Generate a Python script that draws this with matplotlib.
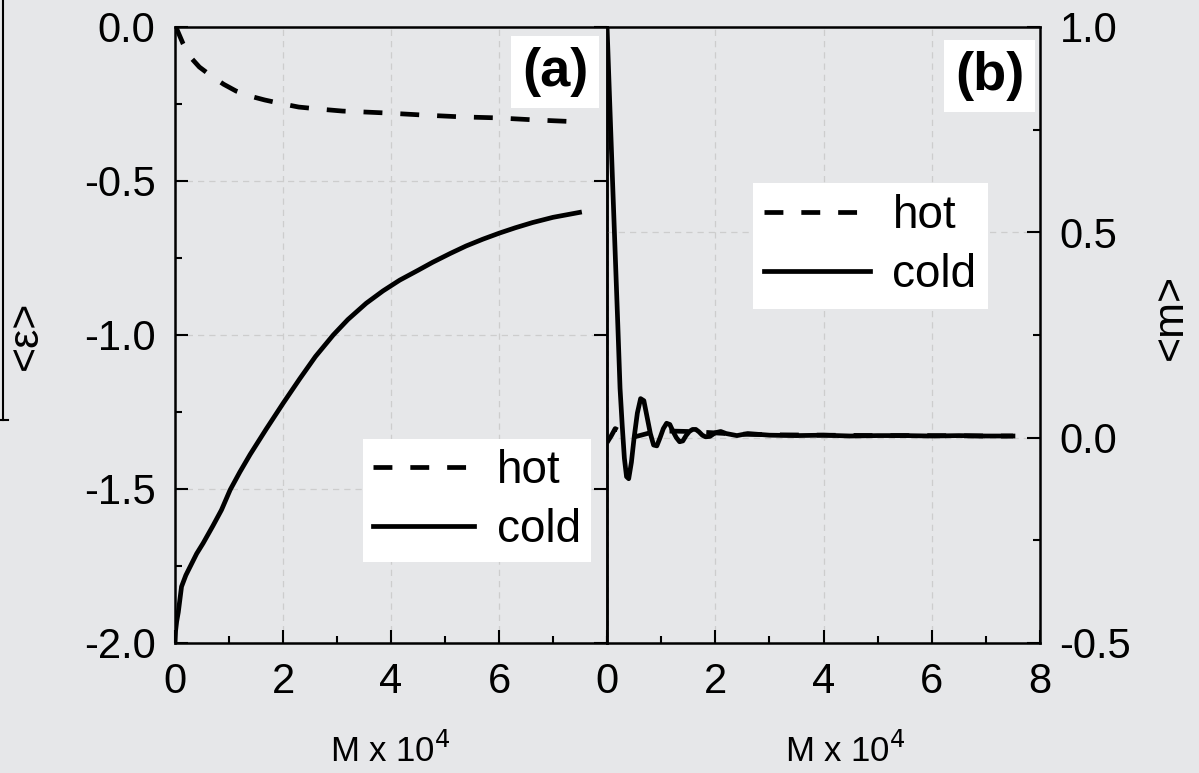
import matplotlib
matplotlib.use("Agg")
import matplotlib.pyplot as plt
from matplotlib.lines import Line2D
from matplotlib.ticker import MultipleLocator

plt.rcParams['font.family'] = ['Liberation Sans', 'DejaVu Sans']

# panel (a): energy <eps> vs M x 10^4
a_hot_x = [0, 0.04, 0.15, 0.28, 0.45, 0.67, 0.9, 1.13, 1.4, 1.66, 2.0, 2.29, 2.7,
           3.1, 3.5, 3.88, 4.6, 5.32, 5.95, 6.69, 7.34, 7.52]
a_hot_y = [0, -0.01, -0.055, -0.097, -0.13, -0.159, -0.186, -0.208, -0.225, -0.237,
           -0.25, -0.26, -0.267, -0.273, -0.276, -0.279, -0.286, -0.292, -0.295,
           -0.302, -0.307, -0.308]
a_cold_x = [0, 0.01, 0.03, 0.06, 0.12, 0.2, 0.28, 0.4, 0.52, 0.7, 0.86, 1.02, 1.2,
            1.39, 1.69, 2.0, 2.31, 2.6, 2.93, 3.2, 3.54, 3.85, 4.16, 4.5, 4.77, 5.1,
            5.39, 5.7, 6.01, 6.3, 6.62, 7.0, 7.49]
a_cold_y = [-2.0, -1.96, -1.93, -1.90, -1.817, -1.78, -1.752, -1.71, -1.676, -1.62,
            -1.568, -1.503, -1.445, -1.388, -1.305, -1.222, -1.142, -1.07, -1.0,
            -0.95, -0.897, -0.857, -0.822, -0.79, -0.764, -0.735, -0.711, -0.689,
            -0.669, -0.652, -0.635, -0.618, -0.602]

# panel (b): magnetization <m> vs M x 10^4
b_hot_x = [0, 0.08, 0.15, 0.25, 0.35, 0.45, 0.6, 0.8, 1.0, 1.2, 1.5, 1.8, 2.2, 2.6,
           3, 4, 5, 6, 7, 7.5]
b_hot_y = [-0.012, 0.005, 0.022, 0.015, 0.005, 0.0, 0.005, 0.012, 0.015, 0.016,
           0.015, 0.013, 0.01, 0.008, 0.007, 0.006, 0.005, 0.005, 0.004, 0.004]
b_cold_x = [0, 0.04, 0.10, 0.15, 0.20, 0.24, 0.28, 0.32, 0.36, 0.40, 0.45, 0.50,
            0.56, 0.62, 0.68, 0.74, 0.80, 0.86, 0.92, 0.98, 1.04, 1.10, 1.16, 1.22,
            1.28, 1.34, 1.40, 1.46, 1.52, 1.58, 1.64, 1.70, 1.76, 1.82, 1.90, 2.0,
            2.1, 2.2, 2.4, 2.6, 3.0, 3.5, 4, 4.5, 5, 5.5, 6, 6.5, 7, 7.5]
b_cold_y = [1.0, 0.85, 0.63, 0.45, 0.27, 0.12, 0.03, -0.05, -0.095, -0.10, -0.06,
            0.0, 0.06, 0.095, 0.09, 0.05, 0.01, -0.018, -0.02, 0.0, 0.022, 0.035,
            0.032, 0.015, 0.0, -0.01, -0.008, 0.005, 0.015, 0.02, 0.02, 0.014,
            0.006, 0.002, 0.003, 0.012, 0.015, 0.01, 0.005, 0.01, 0.006, 0.005,
            0.006, 0.004, 0.005, 0.005, 0.004, 0.005, 0.004, 0.004]

a_xticks = [0, 2, 4, 6]
b_xticks = [0, 2, 4, 6, 8]
a_yticks = [0.0, -0.5, -1.0, -1.5, -2.0]
b_yticks = [1.0, 0.5, 0.0, -0.5]

bg = '#e6e7e9'
lw = 3.4
dash = (0, (4.0, 3.8))

fig = plt.figure(figsize=(11.99, 7.73), dpi=100, facecolor=bg)
ax1 = fig.add_axes([0.146, 0.1682, 0.3603, 0.7969])
ax2 = fig.add_axes([0.5063, 0.1682, 0.3611, 0.7969])

for ax in (ax1, ax2):
    ax.set_facecolor('none')
    for s in ax.spines.values():
        s.set_linewidth(1.8)
    ax.set_xlim(0, 8)
    ax.xaxis.set_minor_locator(MultipleLocator(1))
    ax.yaxis.set_minor_locator(MultipleLocator(0.25))
    ax.grid(True, which='major', color='#cdcdcd', linestyle=(0, (5, 4)), linewidth=0.9)
    ax.tick_params(which='both', direction='in', width=1.5, labelsize=30, pad=14)
    ax.tick_params(which='major', length=9.5)
    ax.tick_params(which='minor', length=5)
    ax.tick_params(axis='x', which='both', top=False)

# panel (a)
ax1.plot(a_hot_x, a_hot_y, color='black', lw=lw, linestyle=dash, label='hot')
ax1.plot(a_cold_x, a_cold_y, color='black', lw=lw, label='cold',
         solid_joinstyle='round')
ax1.set_ylim(-2.0, 0.0)
ax1.set_xticks(a_xticks)
ax1.set_yticks(a_yticks)
ax1.set_yticklabels(['0.0', '-0.5', '-1.0', '-1.5', '-2.0'])
ax1.tick_params(axis='y', which='major', left=True, right=True)
ax1.tick_params(axis='y', which='minor', left=True, right=False)
ax1.set_xlabel(r'M x 10$^4$', fontsize=25)
ax1.xaxis.set_label_coords(0.498, -0.145)
ax1.set_ylabel('<ε>', fontsize=31)
ax1.yaxis.set_label_coords(-0.30, 0.5)
ax1.text(0.88, 0.927, '(a)', transform=ax1.transAxes, fontsize=39, fontweight='bold',
         ha='center', va='center',
         bbox=dict(boxstyle='square,pad=0.2', fc='white', ec='none'))
ax1.legend(loc='lower right', bbox_to_anchor=(0.963, 0.131), borderaxespad=0,
           fontsize=33, frameon=True, fancybox=False, framealpha=1,
           edgecolor='none', handlelength=2.2, handletextpad=0.5,
           labelspacing=0.33, borderpad=0.22)

# panel (b)
ax2.plot(b_hot_x, b_hot_y, color='black', lw=lw, linestyle=dash, label='hot')
ax2.plot(b_cold_x, b_cold_y, color='black', lw=lw, label='cold',
         solid_joinstyle='round')
ax2.set_ylim(-0.5, 1.0)
ax2.set_xticks(b_xticks)
ax2.set_yticks(b_yticks)
ax2.set_yticklabels(['1.0', '0.5', '0.0', '-0.5'])
ax2.yaxis.tick_right()
ax2.tick_params(axis='y', which='both', left=False, right=True)
ax2.set_xlabel(r'M x 10$^4$', fontsize=25)
ax2.xaxis.set_label_coords(0.55, -0.145)
ax2.yaxis.set_label_position('right')
ax2.set_ylabel('<m>', fontsize=31, rotation=90)
ax2.yaxis.set_label_coords(1.255, 0.53)
ax2.text(0.884, 0.92, '(b)', transform=ax2.transAxes, fontsize=39, fontweight='bold',
         ha='center', va='center',
         bbox=dict(boxstyle='square,pad=0.2', fc='white', ec='none'))
ax2.legend(loc='upper right', bbox_to_anchor=(0.88, 0.747), borderaxespad=0,
           fontsize=33, frameon=True, fancybox=False, framealpha=1,
           edgecolor='none', handlelength=2.3, handletextpad=0.5,
           labelspacing=0.33, borderpad=0.25)

# stray frame edge at the far left of the original picture
fig.add_artist(Line2D([0.0022, 0.0022], [1.0, 0.457], color='black', lw=1.5,
                      transform=fig.transFigure))
fig.add_artist(Line2D([0.0, 0.007], [0.457, 0.457], color='black', lw=1.5,
                      transform=fig.transFigure))

fig.savefig('out.png', dpi=100, facecolor=fig.get_facecolor())
